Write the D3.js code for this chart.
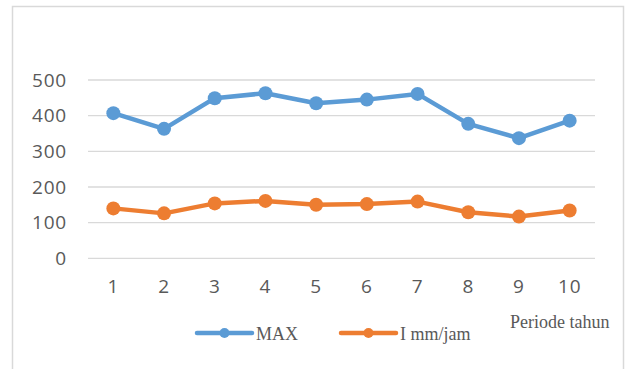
<!DOCTYPE html>
<html><head><meta charset="utf-8">
<script src="https://cdn.jsdelivr.net/npm/d3@7"></script>
<style>body{margin:0;background:#fff}svg{display:block}</style>
</head><body><svg id="c" width="625" height="369"></svg>
<script>
const categories = ["1","2","3","4","5","6","7","8","9","10"];
const maxValues = [407, 363, 449, 463, 435, 445, 461, 377, 337, 386];
const iValues = [140, 126, 154, 161, 150, 152, 159, 129, 117, 134];
const yTicks = [0, 100, 200, 300, 400, 500];
const seriesNames = ["MAX", "I mm/jam"];
const colors = ["#5B9BD5", "#ED7D31"];
const xTitle = "Periode tahun";

const svg = d3.select("#c");
svg.append("rect").attr("x", 12.5).attr("y", 6.5).attr("width", 611).attr("height", 400)
  .attr("fill", "#fff").attr("stroke", "#d9d9d9").attr("stroke-width", 1.5);

const x = d3.scaleBand().domain(categories).range([88, 595]);
const y = d3.scaleLinear().domain([0, 500]).range([258.3, 80]);

const grid = svg.append("g");
grid.selectAll("line").data(yTicks).join("line")
  .attr("x1", 88).attr("x2", 595)
  .attr("y1", d => y(d)).attr("y2", d => y(d))
  .attr("stroke", "#d9d9d9").attr("stroke-width", 1.3);

const yAxis = svg.append("g").attr("transform", "translate(67,0)")
  .call(d3.axisLeft(y).tickValues(yTicks).tickSize(0).tickPadding(0));
yAxis.select(".domain").remove();
yAxis.selectAll("text").attr("font-family", "Open Sans").attr("font-size", 19)
  .attr("letter-spacing", 0.8).attr("fill", "#595959");

const xAxis = svg.append("g").attr("transform", "translate(0,279)")
  .call(d3.axisBottom(x).tickSize(0).tickPadding(0));
xAxis.select(".domain").remove();
xAxis.selectAll("text").attr("font-family", "Open Sans").attr("font-size", 19)
  .attr("letter-spacing", 0.8).attr("fill", "#595959");

const series = [maxValues, iValues];
series.forEach((vals, i) => {
  const line = d3.line().x((d, j) => x(categories[j]) + x.bandwidth() / 2).y(d => y(d));
  svg.append("path").datum(vals).attr("d", line).attr("fill", "none")
    .attr("stroke", colors[i]).attr("stroke-width", 4.5).attr("stroke-linejoin", "round");
  svg.append("g").selectAll("circle").data(vals).join("circle")
    .attr("cx", (d, j) => x(categories[j]) + x.bandwidth() / 2).attr("cy", d => y(d))
    .attr("r", 7).attr("fill", colors[i]);
});

const legX = [197, 341];
seriesNames.forEach((name, i) => {
  const g = svg.append("g").attr("transform", `translate(${legX[i]},333)`);
  g.append("line").attr("x1", 0).attr("x2", 55).attr("y1", 0).attr("y2", 0)
    .attr("stroke", colors[i]).attr("stroke-width", 4.5).attr("stroke-linecap", "round");
  g.append("circle").attr("cx", 27.5).attr("cy", 0).attr("r", 5).attr("fill", colors[i]);
  g.append("text").attr("x", 59).attr("y", 6.5).text(name)
    .attr("font-family", "Liberation Serif").attr("font-size", 18).attr("fill", "#595959");
});

svg.append("text").attr("x", 510).attr("y", 327.5).text(xTitle)
  .attr("font-family", "Liberation Serif").attr("font-size", 18).attr("fill", "#595959");
</script></body></html>
